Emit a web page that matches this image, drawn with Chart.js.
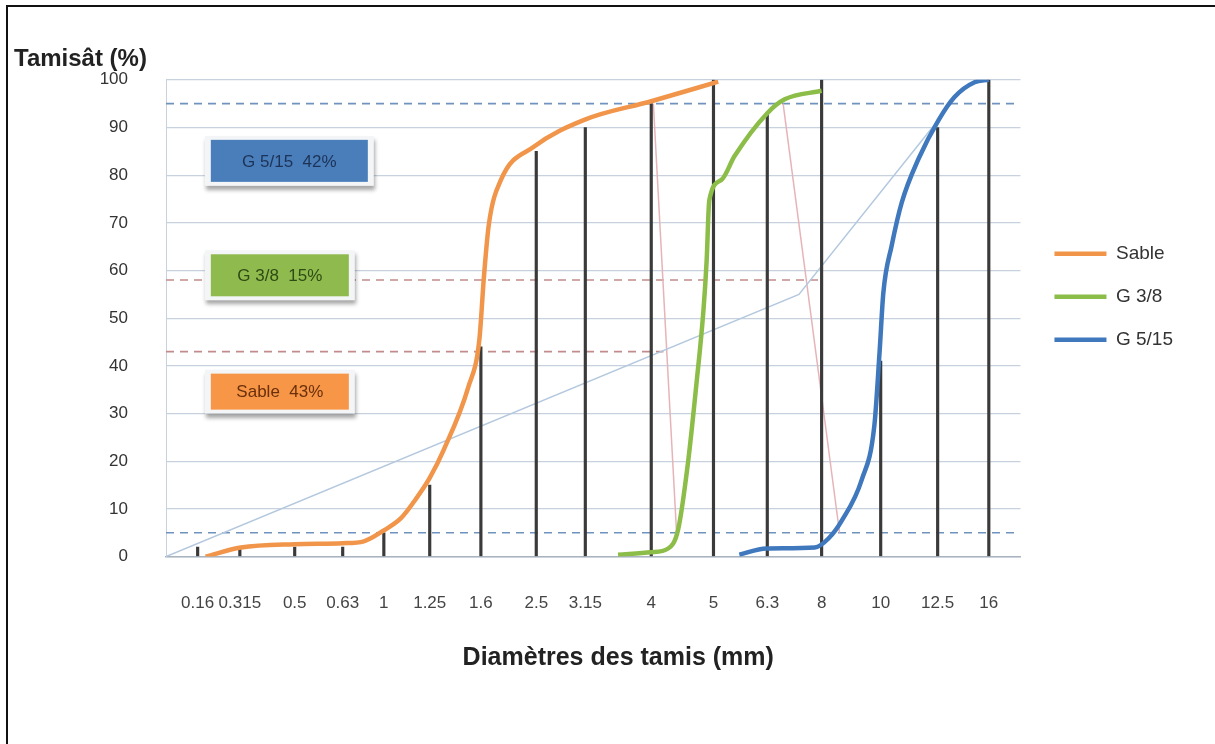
<!DOCTYPE html>
<html>
<head>
<meta charset="utf-8">
<script src="https://cdn.jsdelivr.net/npm/chart.js@4.4.0/dist/chart.umd.min.js"></script>
<style>
  html, body { margin: 0; padding: 0; background: #fff; }
  #wrap { position: relative; width: 1215px; height: 744px; overflow: hidden; }
  #frame { position: absolute; left: 6px; top: 5px; width: 1300px; height: 800px; border-left: 2px solid #111; border-top: 2px solid #111; }
  canvas { position: absolute; left: 0; top: 0; }
</style>
</head>
<body>
<div id="wrap"><div id="frame"></div><canvas id="granulo" width="1215" height="744"></canvas></div>
<script>
// sieve openings (mm) and where each one sits along the (hand drawn) x axis
const sieves = ['0.16', '0.315', '0.5', '0.63', '1', '1.25', '1.6', '2.5', '3.15', '4', '5', '6.3', '8', '10', '12.5', '16'];
const sievePos = [0, 0.8, 1.84, 2.75, 3.53, 4.4, 5.37, 6.42, 7.35, 8.6, 9.78, 10.8, 11.83, 12.95, 14.03, 15];
// height of the black line drawn at each sieve (%)
const sieveMarks = [2, 2, 2, 2, 5, 15, 44, 85, 90, 95, 100, 93, 100, 41, 90, 100];

// grading curves, [x position, passing %]
const sable = [[0.15, 0], [0.82, 1.9], [1.84, 2.6], [2.75, 2.8], [3.15, 3.2], [3.53, 5.5], [3.85, 8], [4.1, 11.5], [4.4, 16.5], [4.67, 22.5], [5.13, 35.5], [5.34, 45.4], [5.43, 59], [5.52, 69.6], [5.75, 79], [6.38, 86], [7.33, 91.6], [8.6, 95.5], [9.87, 99.6]];
const g38 = [[7.97, 0.4], [8.6, 0.9], [8.92, 1.7], [9.11, 5.7], [9.3, 20], [9.45, 35.5], [9.59, 51.7], [9.65, 62], [9.7, 74.7], [9.93, 79], [10.18, 84], [10.8, 93], [11.13, 95.9], [11.83, 97.7]];
const g515 = [[10.27, 0.4], [10.78, 1.7], [11.7, 1.9], [11.96, 3.8], [12.21, 7.5], [12.59, 16.1], [12.83, 27.5], [12.93, 43.1], [13.0, 55.3], [13.16, 65.3], [13.35, 74.3], [13.67, 83.5], [14.05, 91.6], [14.35, 96.4], [14.73, 99.5], [15.0, 100]];

// reference line and partition lines
const refLine = [[-0.6, 0], [11.4, 55], [14, 91]];
const partition1 = [[8.64, 95], [9.08, 5]];
const partition2 = [[11.1, 95], [12.17, 5]];

// dashed levels (%)
const limitHigh = [[-0.6, 95], [15.55, 95]];
const limitLow = [[-0.6, 5], [15.55, 5]];
const sableLimit = [[-0.6, 43], [8.83, 43]];
const g38Limit = [[-0.6, 58], [11.83, 58]];

// share of each aggregate in the mix
const partNames = ['G 5/15', 'G 3/8', 'Sable'];
const partShares = [42, 15, 43];

const yTicks = [0, 10, 20, 30, 40, 50, 60, 70, 80, 90, 100];

const toXY = pts => pts.map(p => ({x: p[0], y: p[1]}));

function line(label, pts, color, width, dash, smooth) {
	return {
		type: 'line',
		label: label,
		data: toXY(pts),
		borderColor: color,
		backgroundColor: color,
		borderWidth: width,
		borderDash: dash || [],
		pointRadius: 0,
		fill: false,
		tension: smooth ? 0.4 : 0,
		cubicInterpolationMode: smooth ? 'monotone' : 'default'
	};
}

// label boxes, anchored in data units (left edge, centre)
const boxSpots = [
	{x: 0.25, y: 83, w: 157, h: 42, fill: '#4a7ebb', text: '#1c3357'},
	{x: 0.25, y: 59, w: 138, h: 42, fill: '#8fba4e', text: '#2f4a14'},
	{x: 0.25, y: 34.6, w: 138, h: 36, fill: '#f79646', text: '#6a2f0c'}
];

const partBoxes = {
	id: 'partBoxes',
	afterDatasetsDraw(chart) {
		const {ctx} = chart;
		const x = chart.scales.x, y = chart.scales.y;
		boxSpots.forEach((b, i) => {
			const left = x.getPixelForValue(b.x);
			const top = y.getPixelForValue(b.y) - b.h / 2;
			ctx.save();
			ctx.shadowColor = 'rgba(0,0,0,0.35)';
			ctx.shadowBlur = 4;
			ctx.shadowOffsetX = 1;
			ctx.shadowOffsetY = 4;
			ctx.fillStyle = '#f3f5f7';
			ctx.fillRect(left - 6, top - 4, b.w + 12, b.h + 8);
			ctx.restore();
			ctx.save();
			ctx.fillStyle = b.fill;
			ctx.fillRect(left, top, b.w, b.h);
			ctx.fillStyle = b.text;
			ctx.font = '17px "Liberation Sans", Arial, sans-serif';
			ctx.textAlign = 'center';
			ctx.textBaseline = 'middle';
			ctx.fillText(partNames[i] + '  ' + partShares[i] + '%', left + b.w / 2, top + b.h / 2 + 1);
			ctx.restore();
		});
	}
};

// nudge the legend a little away from the plot
const legendNudge = {
	id: 'legendNudge',
	afterLayout(chart) {
		if (chart.legend) {
			chart.legend.left += 10;
			chart.legend.right += 10;
		}
	}
};

Chart.defaults.font.family = '"Liberation Sans", Arial, sans-serif';

new Chart(document.getElementById('granulo'), {
	type: 'line',
	data: {
		datasets: [
			line('Sable', sable, '#f0954a', 4.5, null, true),
			line('G 3/8', g38, '#8cbd48', 4.5, null, true),
			line('G 5/15', g515, '#3f78bd', 4.5, null, true),
			{
				type: 'bar',
				label: 'tamis',
				data: sievePos.map((p, i) => ({x: p, y: sieveMarks[i]})),
				backgroundColor: '#3a3a3a',
				barThickness: 2.5
			},
			line('ref', refLine, '#b4c8de', 1.5),
			line('p1', partition1, '#e6b4b8', 1.5),
			line('p2', partition2, '#e6b4b8', 1.5),
			line('95', limitHigh, '#6f93bd', 1.6, [8, 6]),
			line('5', limitLow, '#6f93bd', 1.6, [8, 6]),
			line('43', sableLimit, '#c28c8c', 1.6, [8, 6]),
			line('58', g38Limit, '#c28c8c', 1.6, [8, 6])
		]
	},
	options: {
		responsive: false,
		animation: false,
		devicePixelRatio: 1,
		layout: {padding: {left: 14, right: 42, top: 0, bottom: 71}},
		plugins: {
			tooltip: {enabled: false},
			title: {
				display: true,
				text: 'Tamisât (%)',
				align: 'start',
				color: '#222',
				font: {size: 24, weight: 'bold'},
				padding: {top: 45, bottom: 6}
			},
			legend: {
				position: 'right',
				align: 'start',
				fullSize: false,
				title: {display: true, text: ' ', padding: 63, font: {size: 12}},
				labels: {
					usePointStyle: true,
					pointStyle: 'line',
					pointStyleWidth: 52,
					padding: 24,
					color: '#333',
					font: {size: 19},
					filter: item => item.datasetIndex < 3
				}
			}
		},
		scales: {
			x: {
				type: 'linear',
				offset: false,
				min: -0.6,
				max: 15.6,
				afterBuildTicks: s => { s.ticks = sievePos.map(p => ({value: p})); },
				ticks: {
					autoSkip: false,
					maxRotation: 0,
					padding: 37,
					color: '#444',
					font: {size: 17},
					callback: (v, i) => sieves[i]
				},
				grid: {display: false, drawTicks: false, offset: false},
				border: {display: true, color: '#a9b4c0', width: 1.5},
				title: {
					display: true,
					text: '\u2003\u2003Diamètres des tamis (mm)',
					color: '#222',
					font: {size: 25, weight: 'bold'},
					padding: {top: -8, bottom: 0}
				}
			},
			y: {
				min: 0,
				max: 100,
				afterBuildTicks: s => { s.ticks = yTicks.map(v => ({value: v})); },
				afterFit: s => { s.width = 152; },
				ticks: {padding: 38, color: '#333', font: {size: 17}},
				grid: {color: '#c8d2de', lineWidth: 1.2, drawTicks: false},
				border: {color: '#c8d2de'}
			}
		}
	},
	plugins: [partBoxes, legendNudge]
});
</script>
</body>
</html>
